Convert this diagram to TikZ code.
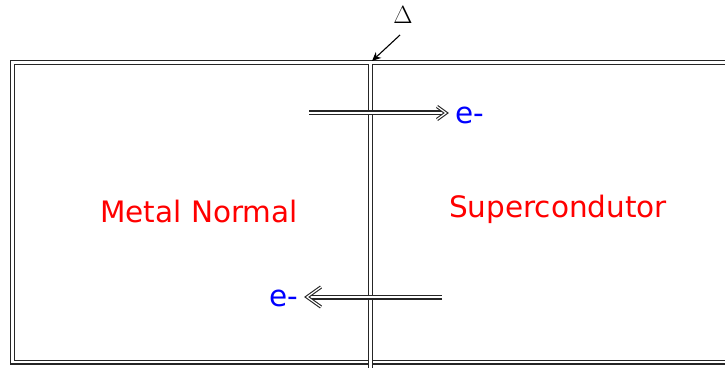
\documentclass[tikz,border=0pt]{standalone}
\usepackage{fontspec}
\setsansfont{DejaVu Sans}
\usetikzlibrary{arrows.meta}
\begin{document}
\begin{tikzpicture}[x=1pt,y=-1pt,
  wall/.style={draw=black!85, line width=1.3pt, double=white, double distance=2.4pt},
  head/.style={draw=black!85, line width=1.1pt, double=white, double distance=1.2pt, line join=miter, line cap=butt},
  lbl/.style={font=\sffamily\fontsize{29.5}{29.5}\selectfont, text=red, inner sep=0pt},
  elec/.style={font=\sffamily\fontsize{29.5}{29.5}\selectfont, text=blue, inner sep=0pt}]
\useasboundingbox (0,0) rectangle (725,371);
\clip (0,0) rectangle (725,371);
% outer box
\draw[wall] (12.5,62.5) rectangle (745,362);
% barrier
\coordinate (btop) at (370.5,64);
\coordinate (bbot) at (370.5,368);
\draw[wall] (btop) -- (bbot);
% arrows
\coordinate (a1s) at (309,113);
\coordinate (a1e) at (446,113);
\coordinate (a2s) at (442,297);
\coordinate (a2e) at (307,297);
\draw[wall] (a1s) -- ([xshift=-3pt]a1e);
\draw[head] ([shift={(-9,-6.5)}]a1e) -- (a1e) -- ([shift={(-9,6.5)}]a1e);
\draw[wall] (a2s) -- ([xshift=4pt]a2e);
\draw[head] ([shift={(14,-10)}]a2e) -- (a2e) -- ([shift={(14,10)}]a2e);
% labels
\node[elec, anchor=west] (e1) at (455,115) {e-};
\node[elec, anchor=east] (e2) at (298,298) {e-};
\node[lbl] (mn) at (199,212) {Metal Normal};
\node[lbl] (sc) at (558,209) {Supercondutor};
% Delta
\node[inner sep=0pt, font=\fontsize{28}{28}\selectfont] (delta) at (403,15) {$\Delta$};
\coordinate (dtip) at (372,61);
\draw[line width=1.1pt, -{Stealth[length=9pt,width=8pt]}] (400,35) -- (dtip);
\end{tikzpicture}
\end{document}
